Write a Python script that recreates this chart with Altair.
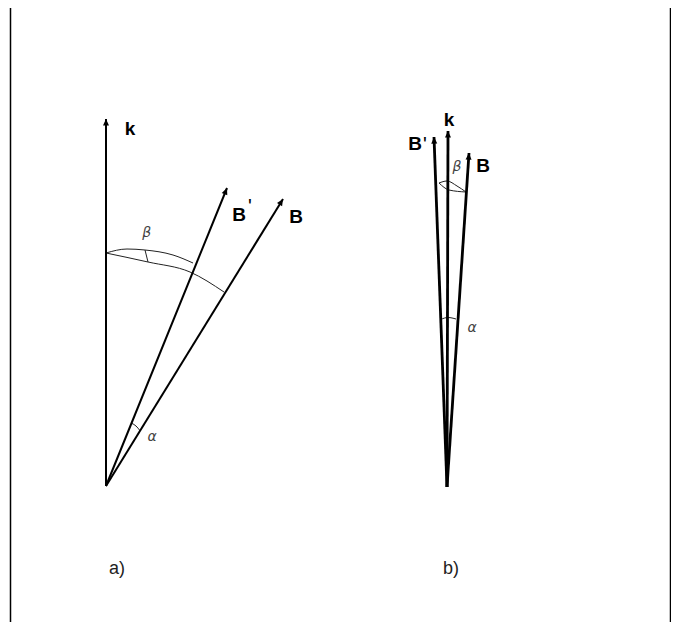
import numpy as np
import pandas as pd
import altair as alt

# ---- vectors (diagram coordinates, y downwards) ----
vec_panel = ["a", "a", "a", "b", "b", "b"]
vec_name = ["k", "B'", "B", "k", "B'", "B"]
vec_x0 = [106, 106, 106, 447, 447, 447]
vec_y0 = [486, 486, 486, 487, 487, 487]
vec_x1 = [106, 227, 283, 448, 434, 469]
vec_y1 = [119, 188, 199, 131, 137, 153]

# ---- angle arcs (control points) ----
arc_id = (["a_beta_up"] * 5 + ["a_beta_low"] * 4 + ["a_beta_tick"] * 2 +
          ["a_alpha"] * 3 + ["b_beta_up"] * 4 + ["b_beta_low"] * 3 + ["b_alpha"] * 3)
arc_x = [106, 127, 145, 173, 193,
         106, 148, 190, 224,
         145, 148,
         131.7, 136, 140,
         439, 447, 457, 466,
         439, 449, 466,
         440.5, 448, 456]
arc_y = [253, 249, 250, 255, 263,
         253, 262, 272, 292,
         250, 262,
         423.3, 426, 430.7,
         183, 181, 186, 192,
         183, 190, 192,
         319.5, 317.5, 319]

# ---- labels ----
vlab_text = ["k", "B", "B", "k", "B", "B"]
vlab_x = [130, 239, 296, 449, 415, 483]
vlab_y = [135, 221, 223, 126, 150, 171.5]
prime_x = [250, 425]
prime_y = [197, 135]
greek_text = ["β", "α", "β", "α"]
greek_x = [146.7, 152, 457, 472]
greek_y = [233, 437, 167, 327.5]
cap_text = ["a)", "b)"]
cap_x = [117, 451]
cap_y = [574, 574]
border_x = [10.5, 670.5]

vec = pd.DataFrame({"panel": vec_panel, "name": vec_name,
                    "x0": vec_x0, "y0": vec_y0, "x1": vec_x1, "y1": vec_y1})
dx = vec["x1"] - vec["x0"]
dy = vec["y1"] - vec["y0"]
vec["ang"] = np.mod(np.degrees(np.arctan2(dx, -dy)), 360)
arcs = pd.DataFrame({"id": arc_id, "x": arc_x, "y": arc_y})
arcs["o"] = arcs.groupby("id").cumcount()
vlab = pd.DataFrame({"t": vlab_text, "x": vlab_x, "y": vlab_y})
primes = pd.DataFrame({"x": prime_x, "y": prime_y, "t": ["'"] * 2})
greek = pd.DataFrame({"t": greek_text, "x": greek_x, "y": greek_y})
caps = pd.DataFrame({"t": cap_text, "x": cap_x, "y": cap_y})

W, H = 663, 614
borders = pd.DataFrame({"x": border_x, "ya": [8, 8], "yb": [8 + H, 8 + H]})
xs = alt.Scale(domain=[8, 8 + W], nice=False, zero=False)
ys = alt.Scale(domain=[8, 8 + H], nice=False, zero=False, reverse=True)
FONT = "Liberation Sans"

def X(f):
    return alt.X(f, type="quantitative", scale=xs, axis=None)

def Y(f):
    return alt.Y(f, type="quantitative", scale=ys, axis=None)

border_layer = alt.Chart(borders).mark_rule(color="#000", strokeWidth=1.5).encode(
    x=X("x"), y=Y("ya"), y2="yb")

lines = alt.Chart(vec).mark_rule(color="#000").encode(
    x=X("x0"), y=Y("y0"), x2="x1", y2="y1",
    strokeWidth=alt.StrokeWidth("panel:N", scale=alt.Scale(domain=["a", "b"], range=[2, 2.8]),
                                legend=None))

heads = alt.Chart(vec).mark_point(
    shape="M0,0L1,2.2L-1,2.2Z", filled=True, color="#000", opacity=1, size=36
).encode(x=X("x1"), y=Y("y1"), angle=alt.Angle("ang:Q", scale=None))

arc_layer = alt.Chart(arcs).mark_line(color="#222", strokeWidth=1, interpolate="monotone").encode(
    x=X("x"), y=Y("y"), detail="id:N", order="o:Q")

vlab_layer = alt.Chart(vlab).mark_text(
    font=FONT, fontSize=19, fontWeight="bold", color="#000", align="center", baseline="alphabetic"
).encode(x=X("x"), y=Y("y"), text="t:N")

prime_layer = alt.Chart(primes).mark_text(
    font=FONT, fontSize=20, color="#000", align="center", baseline="top"
).encode(x=X("x"), y=Y("y"), text="t:N")

greek_layer = alt.Chart(greek).mark_text(
    font="DejaVu Sans", fontSize=14, fontStyle="italic", color="#444", align="center", baseline="middle"
).encode(x=X("x"), y=Y("y"), text="t:N")

cap_layer = alt.Chart(caps).mark_text(
    font=FONT, fontSize=18, color="#222", align="center", baseline="alphabetic"
).encode(x=X("x"), y=Y("y"), text="t:N")

chart = alt.layer(border_layer, arc_layer, lines, heads, vlab_layer, prime_layer,
                  greek_layer, cap_layer).properties(
    width=W, height=H, padding=0, autosize=alt.AutoSizeParams(type="none"),
    background="white"
).configure_view(stroke=None)

chart.save("out.html", embed_options={"renderer": "svg", "actions": False})
